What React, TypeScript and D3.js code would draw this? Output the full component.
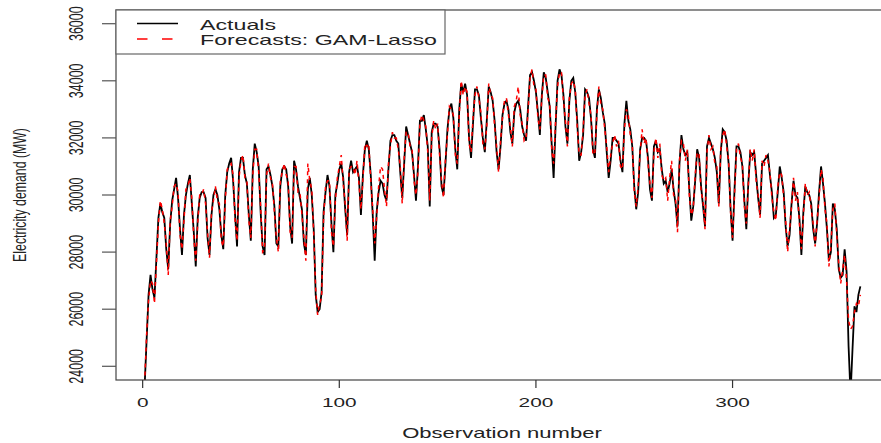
import React from "react";
import * as d3 from "d3";

// daily electricity demand (MW), observations 1..365
const actuals: number[] = [
  23300, 24900, 26500, 27200, 26700, 26400,
  27800, 29200, 29700, 29400, 29200, 28100, 27400,
  29000, 29800, 30200, 30600, 29900, 28800, 27900,
  29300, 30000, 30400, 30700, 29700, 28700, 27500,
  29200, 29900, 30100, 30100, 29900, 28500, 27900,
  29300, 30000, 30200, 30000, 29500, 28600, 28100,
  30000, 30800, 31100, 31300, 30500, 29300, 28200,
  30800, 31300, 31300, 30700, 30400, 29300, 28400,
  30900, 31800, 31500, 31000, 29400, 28200, 27900,
  30900, 31000, 30700, 30300, 29600, 28300, 28200,
  30300, 30900, 31000, 30900, 30300, 28900, 28300,
  31200, 30900, 30300, 29900, 29500, 28300, 27900,
  30200, 30600, 30000, 28800, 26500, 25900, 26000,
  26600, 29400, 30100, 30700, 30300, 29000, 28000,
  30000, 30400, 30900, 31100, 30600, 29500, 28600,
  30800, 31200, 30800, 30900, 31000, 30600, 29300,
  30700, 31600, 31900, 31600, 30700, 29300, 27700,
  29400, 30100, 30500, 30400, 30000, 29800, 30900,
  31900, 32100, 32100, 31900, 31800, 30800, 29900,
  31100, 32400, 32100, 31800, 31500, 30700, 29800,
  31000, 32600, 32600, 32800, 32300, 31700, 29600,
  32200, 32500, 32500, 32400, 31600, 30300, 30000,
  31100, 32300, 33000, 33200, 32700, 31600, 30900,
  33000, 33900, 33600, 33900, 33500, 32000, 31300,
  32500, 33700, 33700, 33500, 32700, 32000, 31500,
  32600, 33800, 33600, 33300, 32600, 31500, 30900,
  31700, 32800, 33200, 33300, 33000, 32200, 31800,
  32900, 33200, 33300, 33000, 32400, 32100, 31900,
  33100, 34200, 34300, 34000, 33600, 32900, 32100,
  33500, 34300, 34100, 33600, 33100, 31800, 30600,
  32400, 34000, 34400, 34200, 33500, 32400, 31800,
  33300, 34000, 34100, 33600, 32600, 31200, 31500,
  32100, 33700, 33600, 33400, 32700, 31600, 31300,
  33000, 33700, 33400, 32900, 32500, 31500, 30600,
  31200, 32000, 32000, 31900, 31800, 31200, 30800,
  32500, 33300, 32600, 32300, 31700, 30300, 29500,
  30100, 31600, 32000, 32000, 31900, 31300, 30200,
  29800, 31700, 31900, 31500, 31600, 30900, 30400,
  30500, 30100, 30400, 30900, 30200, 29700, 28900,
  31100, 32100, 31600, 31400, 31500, 30200, 29100,
  29600, 30500, 31600, 31300, 30300, 29600, 28900,
  31700, 32000, 31800, 31600, 31300, 30800, 29700,
  31500, 32300, 32200, 31900, 31100, 29500, 28400,
  30200, 31700, 31700, 31500, 31000, 29800, 28800,
  30400, 31500, 31400, 31500, 30700, 29900, 29300,
  31100, 31200, 31300, 31400, 30700, 30100, 29200,
  29300, 30100, 31000, 30600, 30100, 28900, 28200,
  28600, 29700, 30500, 30000, 29900, 29200, 27900,
  29400, 30300, 30100, 30000, 29700, 28800, 28300,
  29000, 30100, 31000, 30400, 29700, 28800, 27700,
  28000, 29700, 29500, 28800, 27400, 27100, 27200,
  28100, 27300, 24700, 23000, 24600, 26100, 25900,
  26500, 26800,
];

const forecasts: number[] = [
  23400, 25100, 26300, 27000, 26900, 26200,
  27600, 29000, 29800, 29500, 29000, 28300, 27200,
  29100, 29600, 30300, 30400, 30100, 28600, 28100,
  29100, 30200, 30300, 30600, 29900, 28500, 27700,
  29000, 30000, 30000, 30200, 29700, 28700, 27800,
  29400, 29800, 30300, 29800, 29700, 28400, 28200,
  29800, 30900, 31000, 31100, 30700, 29100, 28400,
  30600, 31200, 31400, 30600, 30500, 29100, 28500,
  30700, 31600, 31600, 30800, 29600, 28000, 28100,
  30700, 31100, 30600, 30400, 29400, 28500, 28000,
  30500, 30800, 31100, 30700, 30500, 28700, 28500,
  31000, 31000, 30100, 30100, 29300, 28500, 27700,
  31100, 30500, 30200, 28600, 26700, 25800, 26200,
  26400, 29200, 30300, 30500, 30500, 28700, 28200,
  29800, 30600, 31000, 31400, 30400, 29700, 28400,
  30900, 31000, 31000, 30700, 31200, 30400, 29500,
  30500, 31800, 31700, 31800, 30500, 29500, 28300,
  29200, 30300, 31000, 30900, 30200, 29600, 31100,
  31700, 32200, 32000, 32000, 31600, 31000, 29700,
  31300, 32200, 32200, 31700, 31600, 30500, 30000,
  30800, 32500, 32800, 32600, 32400, 31500, 29800,
  32000, 32600, 32300, 32500, 31400, 30500, 29900,
  31300, 32100, 33100, 33000, 32800, 31400, 31100,
  32800, 34000, 33500, 33800, 33600, 31800, 31500,
  32700, 33500, 33800, 33400, 32900, 31800, 31600,
  32400, 33900, 33500, 33400, 32400, 31700, 30800,
  31900, 32700, 33300, 33400, 32800, 32400, 31700,
  33100, 33300, 33800, 32800, 32500, 31900, 32000,
  32900, 34100, 34400, 33800, 33700, 32700, 32300,
  33400, 34200, 34200, 33400, 33200, 31600, 31100,
  32600, 33800, 34300, 34300, 33300, 32600, 31700,
  33400, 33900, 34000, 33700, 32400, 31400, 31400,
  32300, 33500, 33700, 33200, 32800, 31400, 31500,
  32800, 33800, 33200, 33000, 32300, 31700, 30800,
  31400, 31800, 32100, 31700, 31900, 31000, 30900,
  32300, 33000, 32800, 32100, 31800, 30100, 29600,
  30300, 31500, 32300, 31800, 32000, 31100, 30400,
  29900, 31500, 32000, 31300, 31800, 30700, 30500,
  30600, 29800, 30600, 31200, 30000, 29900, 28700,
  31200, 31900, 31800, 31200, 31600, 30000, 29300,
  29500, 30700, 31500, 31400, 30100, 29800, 28800,
  31500, 32100, 31600, 31700, 31100, 31000, 29600,
  31600, 32100, 32300, 31700, 31200, 29400, 28500,
  30000, 31600, 31800, 31300, 31100, 29600, 29000,
  30300, 31600, 31200, 31600, 30500, 30000, 29200,
  31200, 31000, 31400, 31200, 30800, 29900, 29400,
  29100, 30300, 30800, 30700, 29900, 29100, 28000,
  28800, 29600, 30600, 29800, 30100, 29000, 28100,
  29300, 30400, 30000, 30100, 29500, 29000, 28200,
  29100, 29900, 30900, 30600, 29500, 29000, 27500,
  28200, 29500, 29700, 28600, 27600, 26900, 27400,
  27900, 27000, 25600, 25300, 25400, 25900, 26200,
  26100, 26500,
];

const xTicks = [0, 100, 200, 300];
const yTicks = [24000, 26000, 28000, 30000, 32000, 34000, 36000];
const legendLabels = ["Actuals", "Forecasts: GAM-Lasso"];

const W = 881;
const H = 443;
const left = 116;
const right = 889;
const top = 10;
const bottom = 380;
const sx = 1.6; // the picture is stretched sideways

export default function App() {
  const n = actuals.length;
  const pad = 0.04 * (n - 1);
  const x = d3.scaleLinear().domain([1 - pad, n + pad]).range([left, right]);
  const y = d3.scaleLinear().domain([23520, 36480]).range([bottom, top]);

  const line = d3
    .line<number>()
    .x((_, i) => x(i + 1))
    .y((d) => y(d));

  const font = "'Liberation Sans', Arial, sans-serif";

  return (
    <svg
      width={W}
      height={H}
      style={{ position: "absolute", left: 0, top: 0, background: "#fff" }}
      fontFamily={font}
    >
      <defs>
        <clipPath id="plot-clip">
          <rect x={left} y={top} width={right - left} height={bottom - top} />
        </clipPath>
      </defs>

      <g clipPath="url(#plot-clip)">
        <path d={line(actuals) || ""} fill="none" stroke="#000" strokeWidth={1.8} />
        <path
          d={line(forecasts) || ""}
          fill="none"
          stroke="#ff0000"
          strokeWidth={1.5}
          strokeDasharray="4,4"
        />
      </g>

      {/* plot box */}
      <rect
        x={left}
        y={top}
        width={right - left}
        height={bottom - top}
        fill="none"
        stroke="#444"
        strokeWidth={1.2}
      />

      {/* x axis */}
      {xTicks.map((t) => (
        <g key={"x" + t}>
          <line x1={x(t)} x2={x(t)} y1={bottom} y2={bottom + 8} stroke="#333" strokeWidth={1.2} />
          <text
            transform={`translate(${x(t)},407) scale(${sx},1)`}
            textAnchor="middle"
            fontSize={13}
            fill="#222"
          >
            {t}
          </text>
        </g>
      ))}
      <text
        transform={`translate(502,438) scale(1.47,1)`}
        textAnchor="middle"
        fontSize={15}
        fill="#222"
      >
        Observation number
      </text>

      {/* y axis */}
      {yTicks.map((t) => (
        <g key={"y" + t}>
          <line x1={left - 14} x2={left} y1={y(t)} y2={y(t)} stroke="#555" strokeWidth={1.2} />
          <text
            transform={`translate(83,${y(t)}) scale(${sx},1) rotate(-90)`}
            textAnchor="middle"
            fontSize={12.5}
            fill="#222"
          >
            {t}
          </text>
        </g>
      ))}
      <text
        transform={`translate(26,195) scale(1.5,1) rotate(-90)`}
        textAnchor="middle"
        fontSize={12.3}
        fill="#222"
      >
        Electricity demand (MW)
      </text>

      {/* legend */}
      <rect x={left} y={top} width={329} height={44} fill="#fff" stroke="#666" strokeWidth={1.2} />
      <line x1={137} x2={178} y1={23.5} y2={23.5} stroke="#000" strokeWidth={1.6} />
      <line
        x1={137}
        x2={173}
        y1={39}
        y2={39}
        stroke="#ff0000"
        strokeWidth={1.4}
        strokeDasharray="10.5,14.5"
      />
      {legendLabels.map((lab, i) => (
        <text
          key={lab}
          transform={`translate(200,${30 + i * 15}) scale(${sx},1)`}
          fontSize={14.5}
          fill="#222"
        >
          {lab}
        </text>
      ))}
    </svg>
  );
}
